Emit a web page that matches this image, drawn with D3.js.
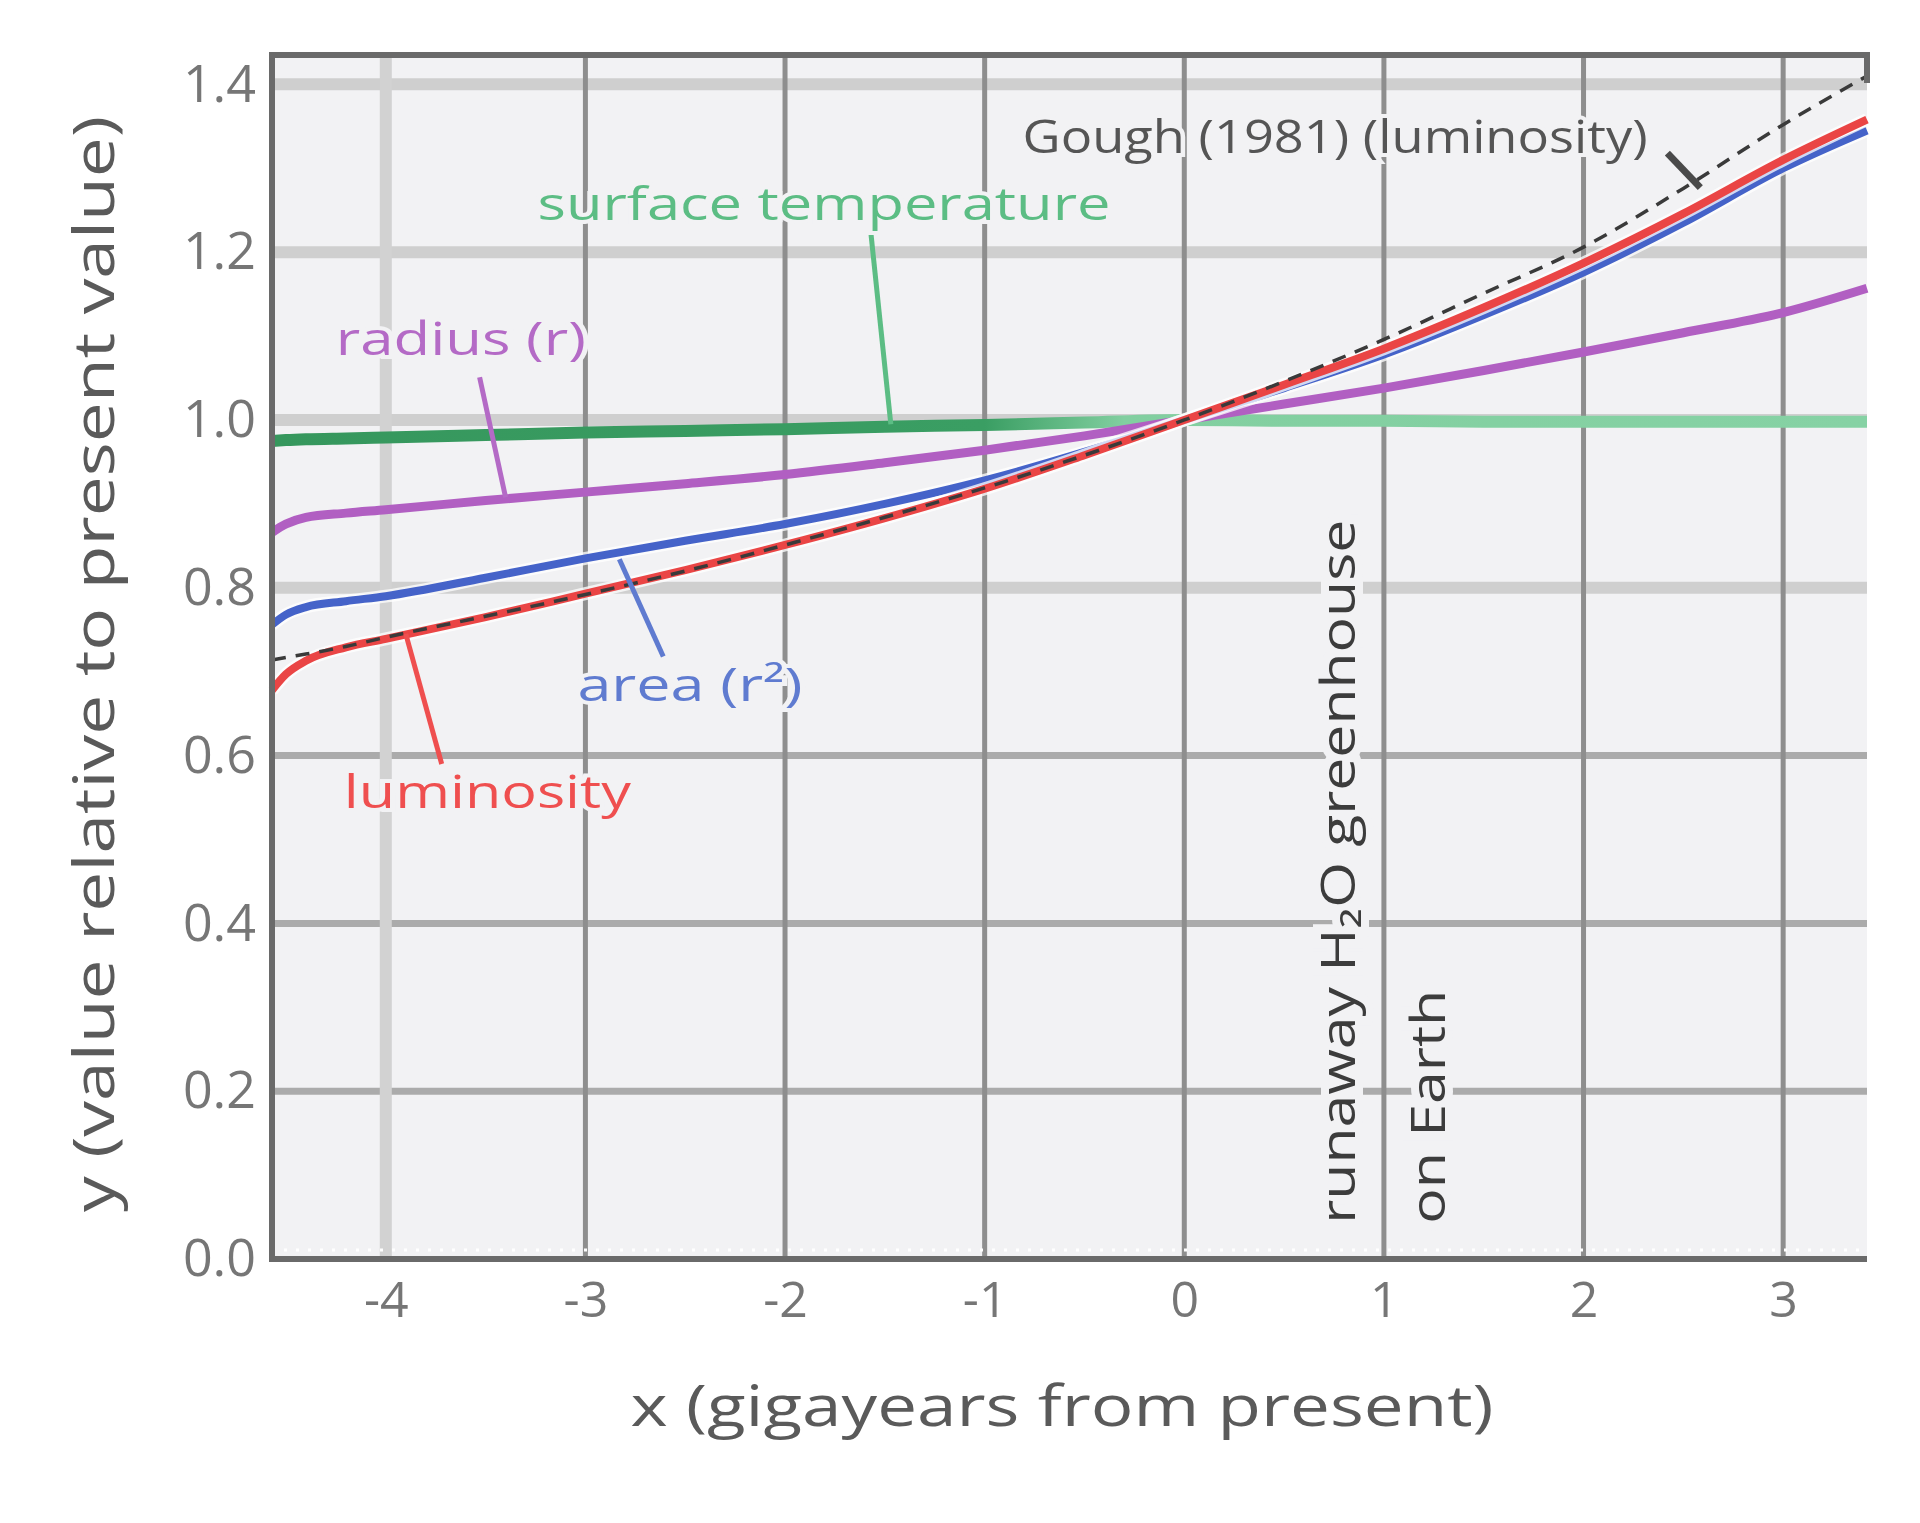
<!DOCTYPE html>
<html>
<head>
<meta charset="utf-8">
<script src="https://cdn.jsdelivr.net/npm/d3@7"></script>
<style>
  body { margin: 0; background: #ffffff; }
  text { font-family: "Open Sans", "Noto Sans", sans-serif; }
</style>
</head>
<body>
<div id="chart"></div>
<script>
// canvas size and plot margins
const width = 1920;
const height = 1523;
const margin = {top: 55, right: 53, bottom: 264, left: 272};

// x values shared by all curves (gigayears from present)
const xValues = [-4.57, -4.5, -4.4, -4.2, -4.0, -3.5, -3.0, -2.5, -2.0, -1.5,
                 -1.0, -0.5, 0, 0.5, 1.0, 1.5, 2.0, 2.5, 3.0, 3.42];

// read values of each curve, relative to the present value
const luminosity  = [0.678, 0.697, 0.713, 0.729, 0.739, 0.765, 0.793, 0.821, 0.851, 0.883,
                     0.918, 0.958, 1.000, 1.042, 1.085, 1.134, 1.187, 1.246, 1.310, 1.358];
const area        = [0.756, 0.768, 0.777, 0.784, 0.790, 0.812, 0.835, 0.856, 0.876, 0.900,
                     0.928, 0.962, 1.000, 1.038, 1.078, 1.125, 1.176, 1.235, 1.300, 1.345];
const radius      = [0.866, 0.876, 0.884, 0.889, 0.893, 0.904, 0.914, 0.924, 0.935, 0.949,
                     0.964, 0.981, 1.000, 1.019, 1.038, 1.059, 1.081, 1.104, 1.128, 1.157];
const temperature = [0.975, 0.976, 0.977, 0.978, 0.979, 0.982, 0.985, 0.987, 0.989, 0.992,
                     0.994, 0.997, 1.000, 0.999, 0.999, 0.998, 0.998, 0.998, 0.998, 0.998];
const gough       = [0.714, 0.717, 0.721, 0.730, 0.741, 0.766, 0.792, 0.820, 0.851, 0.884,
                     0.919, 0.958, 1.000, 1.046, 1.096, 1.151, 1.206, 1.276, 1.352, 1.410];

// axis ticks and their labels
const xTicks = [-4, -3, -2, -1, 0, 1, 2, 3];
const xTickLabels = ["-4", "-3", "-2", "-1", "0", "1", "2", "3"];
const yTicks = [0, 0.2, 0.4, 0.6, 0.8, 1.0, 1.2, 1.4];
const yTickLabels = ["0.0", "0.2", "0.4", "0.6", "0.8", "1.0", "1.2", "1.4"];
const xDomain = [-4.57, 3.42];
const yDomain = [0, 1.435];

const xTitle = "x (gigayears from present)";
const yTitle = "y (value relative to present value)";

var innerWidth = width - margin.left - margin.right;
var innerHeight = height - margin.top - margin.bottom;
var plotBg = "#f2f2f4";

var svg = d3.select("#chart")
    .append("svg")
    .attr("width", width)
    .attr("height", height);

var xScale = d3.scaleLinear().domain(xDomain).range([margin.left, margin.left + innerWidth]);
var yScale = d3.scaleLinear().domain(yDomain).range([margin.top + innerHeight, margin.top]);

// background of the plot area
svg.append("rect")
    .attr("x", xScale(xDomain[0]))
    .attr("y", yScale(yDomain[1]))
    .attr("width", xScale(xDomain[1]) - xScale(xDomain[0]))
    .attr("height", yScale(0) - yScale(yDomain[1]))
    .attr("fill", plotBg);

// gridlines, some of them drawn as light wide bands
var lightX = [-4];
var lightY = [0.8, 1.0, 1.2, 1.4];

svg.append("g").selectAll("line")
    .data(yTicks.filter(function(d) { return d > 0; }))
    .enter().append("line")
    .attr("x1", xScale(xDomain[0]))
    .attr("x2", xScale(xDomain[1]))
    .attr("y1", function(d) { return yScale(d); })
    .attr("y2", function(d) { return yScale(d); })
    .attr("stroke", function(d) { return lightY.indexOf(d) >= 0 ? "#cfcfcf" : "#ababab"; })
    .attr("stroke-width", function(d) { return lightY.indexOf(d) >= 0 ? 12 : 7; });

svg.append("g").selectAll("line")
    .data(xTicks)
    .enter().append("line")
    .attr("x1", function(d) { return xScale(d); })
    .attr("x2", function(d) { return xScale(d); })
    .attr("y1", yScale(0))
    .attr("y2", yScale(yDomain[1]))
    .attr("stroke", function(d) { return lightX.indexOf(d) >= 0 ? "#d2d2d2" : "#8e8e8e"; })
    .attr("stroke-width", function(d) { return lightX.indexOf(d) >= 0 ? 12 : 5; });

// small light marks just above the x-axis
svg.append("line")
    .attr("x1", xScale(xDomain[0]))
    .attr("x2", xScale(xDomain[1]))
    .attr("y1", yScale(0) - 9)
    .attr("y2", yScale(0) - 9)
    .attr("stroke", "#ffffff")
    .attr("stroke-width", 3)
    .attr("stroke-dasharray", "3,9");

// gradient for the temperature line, dark in the past and light in the future
var grad = svg.append("defs").append("linearGradient")
    .attr("id", "tempGrad")
    .attr("gradientUnits", "userSpaceOnUse")
    .attr("x1", xScale(xDomain[0])).attr("x2", xScale(xDomain[1]))
    .attr("y1", 0).attr("y2", 0);
var gradStart = function(v) { return (xScale(v) - xScale(xDomain[0])) / innerWidth; };
grad.append("stop").attr("offset", 0).attr("stop-color", "#36975d");
grad.append("stop").attr("offset", gradStart(-1.0)).attr("stop-color", "#3a9e63");
grad.append("stop").attr("offset", gradStart(-0.3)).attr("stop-color", "#82cfa0");
grad.append("stop").attr("offset", 1).attr("stop-color", "#86d2a4");

// line generator
var line = d3.line()
    .x(function(d) { return xScale(d[0]); })
    .y(function(d) { return yScale(d[1]); })
    .curve(d3.curveMonotoneX);

function pairs(values) {
  return xValues.map(function(x, i) { return [x, values[i]]; });
}

var series = [
  {name: "temperature", values: temperature, color: "url(#tempGrad)", width: 12},
  {name: "radius", values: radius, color: "#b15fc2", width: 9},
  {name: "area", values: area, color: "#4563c9", width: 8, halo: true},
  {name: "luminosity", values: luminosity, color: "#ea4545", width: 8, halo: true}
];

// draw the curves
series.forEach(function(s) {
  if (s.halo) {
    svg.append("path")
        .attr("d", line(pairs(s.values)))
        .attr("fill", "none")
        .attr("stroke", "#ffffff")
        .attr("stroke-opacity", 0.75)
        .attr("stroke-width", s.width + 5);
  }
  svg.append("path")
      .attr("class", "line " + s.name)
      .attr("d", line(pairs(s.values)))
      .attr("fill", "none")
      .attr("stroke", s.color)
      .attr("stroke-width", s.width)
      .attr("stroke-linejoin", "round");
});

// dashed Gough (1981) luminosity
svg.append("path")
    .attr("d", line(pairs(gough)))
    .attr("fill", "none")
    .attr("stroke", "#3a3a3a")
    .attr("stroke-width", 3.5)
    .attr("stroke-dasharray", "14,10");

// labels with short pointer lines, positions in data units
var annotations = [
  {text: "Gough (1981) (luminosity)", color: "#555555", x: -0.81, y: 1.318, len: 625,
   p: [[2.42, 1.318], [2.585, 1.277]], pw: 7, pc: "#4a4a4a"},
  {text: "surface temperature", color: "#5cbd84", x: -3.24, y: 1.238, len: 573,
   p: [[-1.57, 1.223], [-1.47, 0.995]], pw: 5, pc: "#5cbd84"},
  {text: "radius (r)", color: "#b46ac6", x: -4.25, y: 1.078, len: 250,
   p: [[-3.53, 1.051], [-3.40, 0.908]], pw: 5, pc: "#b46ac6"},
  {text: "area (r²)", color: "#5f7bd0", x: -3.04, y: 0.665, len: 225,
   p: [[-2.83, 0.834], [-2.61, 0.718]], pw: 5, pc: "#5f7bd0"},
  {text: "luminosity", color: "#ef4f4f", x: -4.21, y: 0.538, len: 287,
   p: [[-3.90, 0.745], [-3.72, 0.590]], pw: 5, pc: "#ef4f4f"}
];

annotations.forEach(function(a) {
  svg.append("line")
      .attr("x1", xScale(a.p[0][0])).attr("y1", yScale(a.p[0][1]))
      .attr("x2", xScale(a.p[1][0])).attr("y2", yScale(a.p[1][1]))
      .attr("stroke", a.pc)
      .attr("stroke-width", a.pw);
  svg.append("text")
      .attr("x", xScale(a.x))
      .attr("y", yScale(a.y))
      .attr("font-size", 46)
      .attr("textLength", a.len)
      .attr("lengthAdjust", "spacingAndGlyphs")
      .attr("fill", a.color)
      .attr("stroke", plotBg)
      .attr("stroke-width", 8)
      .attr("paint-order", "stroke")
      .text(a.text);
});

// vertical note about the runaway greenhouse
var notes = [
  {text: "runaway H₂O greenhouse", x: 0.77, len: 704},
  {text: "on Earth", x: 1.22, len: 234}
];
notes.forEach(function(n) {
  svg.append("text")
      .attr("transform", "translate(" + xScale(n.x) + "," + yScale(0.042) + ") rotate(-90)")
      .attr("dy", "0.36em")
      .attr("font-size", 48)
      .attr("textLength", n.len)
      .attr("lengthAdjust", "spacingAndGlyphs")
      .attr("fill", "#3c3c3c")
      .attr("stroke", plotBg)
      .attr("stroke-width", 16)
      .attr("paint-order", "stroke")
      .text(n.text);
});

// frame: left, bottom and top, with a short stub at the top right
svg.append("path")
    .attr("d", "M" + xScale(xDomain[1]) + "," + yScale(0) +
               "H" + xScale(xDomain[0]) +
               "V" + yScale(yDomain[1]) +
               "H" + xScale(xDomain[1]) +
               "V" + (yScale(yDomain[1]) + 28))
    .attr("fill", "none")
    .attr("stroke", "#6a6a6a")
    .attr("stroke-width", 6);

// y-axis labels
var yAxis = svg.append("g")
    .attr("transform", "translate(" + xScale(xDomain[0]) + ",0)")
    .call(d3.axisLeft(yScale).tickValues(yTicks)
        .tickFormat(function(d, i) { return yTickLabels[i]; })
        .tickSize(0).tickPadding(16));
yAxis.select(".domain").remove();
yAxis.selectAll("text")
    .attr("font-size", 52)
    .attr("font-family", "Open Sans, sans-serif")
    .attr("fill", "#767676");

// x-axis labels
var xAxis = svg.append("g")
    .attr("transform", "translate(0," + yScale(0) + ")")
    .call(d3.axisBottom(xScale).tickValues(xTicks)
        .tickFormat(function(d, i) { return xTickLabels[i]; })
        .tickSize(0).tickPadding(22));
xAxis.select(".domain").remove();
xAxis.selectAll("text")
    .attr("font-size", 50)
    .attr("font-family", "Open Sans, sans-serif")
    .attr("fill", "#767676");

// axis titles
svg.append("text")
    .attr("x", 1062)
    .attr("y", 1426)
    .attr("text-anchor", "middle")
    .attr("font-size", 56)
    .attr("textLength", 863)
    .attr("lengthAdjust", "spacingAndGlyphs")
    .attr("fill", "#5a5a5a")
    .text(xTitle);

svg.append("text")
    .attr("transform", "translate(94,664) rotate(-90)")
    .attr("dy", "0.36em")
    .attr("text-anchor", "middle")
    .attr("font-size", 56)
    .attr("textLength", 1096)
    .attr("lengthAdjust", "spacingAndGlyphs")
    .attr("fill", "#5a5a5a")
    .text(yTitle);
</script>
</body>
</html>
